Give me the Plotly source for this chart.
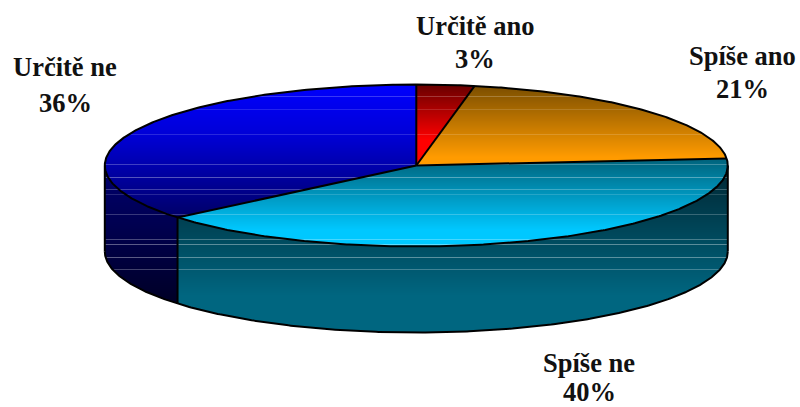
import numpy as np
import plotly.graph_objects as go

# Data
categories = ["Určitě ano", "Spíše ano", "Spíše ne", "Určitě ne"]
values = [3.0, 20.6, 40.3, 36.1]

# Gradient stops per slice: (y, rgb)
top_stops = [
    [(85, (105, 0, 0)), (140, (255, 0, 0)), (166, (255, 0, 0))],
    [(85, (122, 78, 0)), (157, (255, 155, 0)), (170, (255, 155, 0))],
    [(158, (0, 98, 122)), (230, (0, 200, 255)), (250, (0, 200, 255))],
    [(84, (0, 0, 255)), (135, (0, 0, 215)), (220, (0, 0, 100))],
]
wall_stops = {
    2: [(165, (0, 38, 50)), (295, (0, 102, 128)), (335, (0, 102, 128))],
    3: [(170, (0, 0, 110)), (300, (0, 0, 40))],
}
light_rows = {96: .22, 109: .14, 134: .16, 164: .25, 177: .33, 189: .25, 194: .15,
              214: .22, 239: .28, 244: .36, 257: .36, 269: .26}

label_pos = [(475, 26, 59), (742, 56, 89), (589, 363, 391.5), (65, 67, 103)]

CX, CY, RX, RY, DEPTH = 416.3, 165.5, 311.5, 81.0, 86.0


def pt(theta, dy=0.0):
    return np.column_stack([CX + RX * np.sin(theta), CY - RY * np.cos(theta) + dy])


def arc(a, b, dy=0.0):
    n = max(4, int(abs(b - a) * 120))
    return pt(np.linspace(a, b, n), dy)


def clip(poly, y0, y1):
    def half(p, inside, cross):
        out = []
        for i in range(len(p)):
            a, b = p[i], p[(i + 1) % len(p)]
            ia, ib = inside(a), inside(b)
            if ia:
                out.append(a)
            if ia != ib:
                t = (cross - a[1]) / (b[1] - a[1])
                out.append(a + t * (b - a))
        return np.array(out) if out else np.empty((0, 2))

    p = half(poly, lambda q: q[1] >= y0, y0)
    if len(p):
        p = half(p, lambda q: q[1] <= y1, y1)
    return p


def color_at(stops, y):
    ys = [s[0] for s in stops]
    c = [np.interp(y, ys, [s[1][k] for s in stops]) for k in range(3)]
    m = light_rows.get(int(y), 0)
    c = [v + (255 - v) * m for v in c]
    return "rgb(%d,%d,%d)" % tuple(c)


fig = go.Figure()


def add_gradient(poly, stops):
    y0, y1 = int(np.floor(poly[:, 1].min())), int(np.ceil(poly[:, 1].max()))
    for y in range(y0, y1):
        # light rows are exactly one pixel; others overlap the next row to hide seams
        band = clip(poly, y, y + 1 if (y in light_rows or y + 1 in light_rows) else y + 1.5)
        if len(band) < 3:
            continue
        fig.add_trace(go.Scatter(
            x=band[:, 0], y=band[:, 1], mode="lines", fill="toself",
            fillcolor=color_at(stops, y + .5), line=dict(width=0),
            hoverinfo="skip", showlegend=False))


def add_line(p, w=2.0):
    fig.add_trace(go.Scatter(x=p[:, 0], y=p[:, 1], mode="lines",
                             line=dict(color="black", width=w),
                             hoverinfo="skip", showlegend=False))


cum = np.cumsum([0] + values) / sum(values) * 2 * np.pi

# Side walls (front half only)
for i in range(len(values)):
    a, b = max(cum[i], np.pi / 2), min(cum[i + 1], 3 * np.pi / 2)
    if b > a:
        poly = np.vstack([arc(a, b), arc(b, a, DEPTH)])
        add_gradient(poly, wall_stops[i])

# Top faces
centre = np.array([[CX, CY]])
for i in range(len(values)):
    poly = np.vstack([centre, arc(cum[i], cum[i + 1])])
    add_gradient(poly, top_stops[i])

# Outlines
add_line(arc(np.pi / 2, 3 * np.pi / 2, DEPTH))
for th in (np.pi / 2, 3 * np.pi / 2):
    add_line(np.vstack([pt(np.array([th])), pt(np.array([th]), DEPTH)]))
for c in cum[1:-1]:
    if np.pi / 2 < c < 3 * np.pi / 2:
        add_line(np.vstack([pt(np.array([c])), pt(np.array([c]), DEPTH)]))
add_line(arc(0, 2 * np.pi))
for c in cum[:-1]:
    add_line(np.vstack([centre, pt(np.array([c]))]))

# Labels
anns = []
for name, v, (x, y1, y2) in zip(categories, values, label_pos):
    for txt, y in ((name, y1), ("%d%%" % round(v), y2)):
        anns.append(dict(x=x, y=y, text="<b>%s</b>" % txt, showarrow=False,
                         xanchor="center", yanchor="middle",
                         font=dict(family="Liberation Serif", size=26.5, color="#111111")))

fig.update_layout(
    width=800, height=407, margin=dict(l=0, r=0, t=0, b=0),
    paper_bgcolor="white", plot_bgcolor="white", showlegend=False,
    xaxis=dict(range=[0, 800], visible=False, fixedrange=True),
    yaxis=dict(range=[407, 0], visible=False, fixedrange=True),
    annotations=anns,
)
fig.write_html("out.html", config={"displayModeBar": False},
               post_script="document.body.style.margin='0';document.body.style.overflow='hidden';")
